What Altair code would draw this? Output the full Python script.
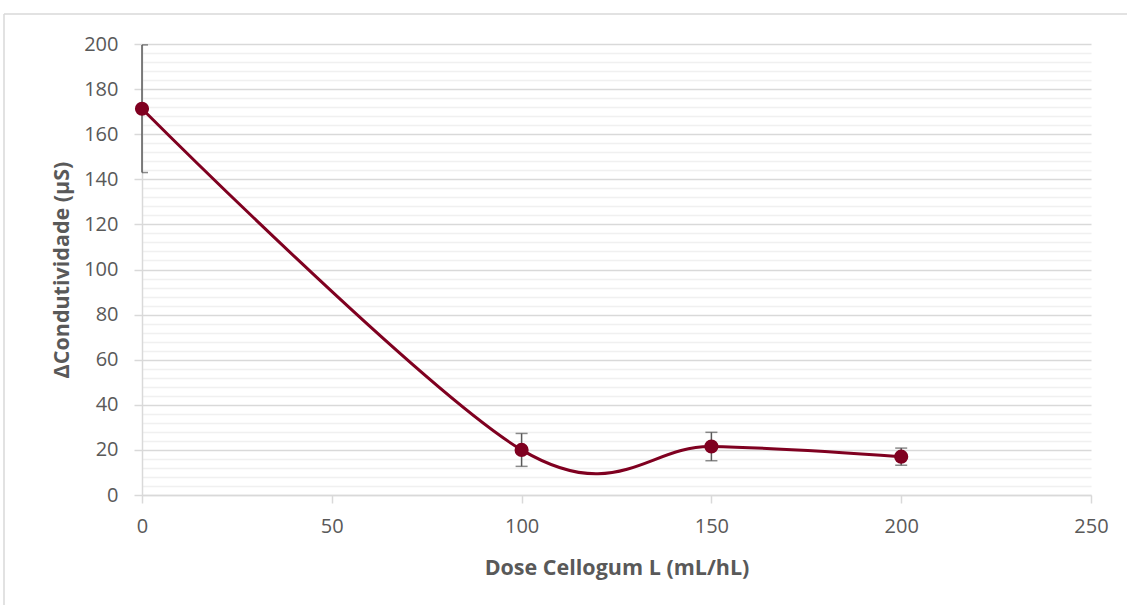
import altair as alt
import pandas as pd

# Dose of Cellogum L (mL/hL) and the measured change in conductivity (µS)
dose = [0, 100, 150, 200]
conductivity = [171.3, 20.0, 21.5, 17.0]
std_dev = [28.3, 7.3, 6.3, 3.8]

x_ticks = [0, 50, 100, 150, 200, 250]
y_grid = list(range(0, 201, 4))

df = pd.DataFrame({"dose": dose, "cond": conductivity, "sd": std_dev})
df["lo"] = df["cond"] - df["sd"]
df["hi"] = df["cond"] + df["sd"]

TEXT = "#595959"
GRID_MAJOR = "#d9d9d9"
GRID_MINOR = "#f0f0f0"
RED = "#7f0020"
FONT = "Open Sans"

x_scale = alt.Scale(domain=[0, 250], nice=False)
y_scale = alt.Scale(domain=[0, 200], nice=False)

x_axis = alt.Axis(
    values=x_ticks,
    tickCount=len(x_ticks),
    grid=False,
    domainColor=GRID_MAJOR,
    domainWidth=1.5,
    tickColor=GRID_MAJOR,
    tickWidth=1.5,
    tickSize=8,
    labelFlush=False,
    labelPadding=13,
    labelFontSize=20,
    labelColor=TEXT,
    labelFont=FONT,
    title="Dose Cellogum L (mL/hL)",
    titleFont=FONT,
    titleFontSize=21.5,
    titleFontWeight="bold",
    titleColor=TEXT,
    titlePadding=21,
)

is_major = "datum.value % 20 === 0"
y_axis = alt.Axis(
    values=y_grid,
    tickCount=len(y_grid),
    grid=True,
    gridColor={"condition": {"test": is_major, "value": GRID_MAJOR}, "value": GRID_MINOR},
    gridWidth=1.5,
    domainColor=GRID_MAJOR,
    domainWidth=1.5,
    tickColor=GRID_MAJOR,
    tickOpacity={"condition": {"test": is_major, "value": 1}, "value": 0},
    tickWidth=1.5,
    tickSize=8,
    labelFlush=False,
    labelExpr=f"{is_major} ? datum.label : ''",
    labelOverlap=False,
    labelPadding=16,
    labelFontSize=20,
    labelColor=TEXT,
    labelFont=FONT,
    title="ΔCondutividade (µS)",
    titleFont=FONT,
    titleFontSize=21.5,
    titleFontWeight="bold",
    titleColor=TEXT,
    titlePadding=10,
)

base = alt.Chart(df)

line = base.mark_line(color=RED, strokeWidth=3, interpolate="cardinal").encode(
    x=alt.X("dose:Q", scale=x_scale, axis=x_axis),
    y=alt.Y("cond:Q", scale=y_scale, axis=y_axis),
)

err_rule = base.mark_rule(color=TEXT, strokeWidth=1.5).encode(
    x="dose:Q", y="lo:Q", y2="hi:Q"
)
cap_lo = base.mark_tick(color=TEXT, orient="horizontal", size=12, thickness=1.5, clip=True).encode(
    x="dose:Q", y="lo:Q"
)
cap_hi = base.mark_tick(color=TEXT, orient="horizontal", size=12, thickness=1.5, clip=True).encode(
    x="dose:Q", y="hi:Q"
)

points = base.mark_circle(color=RED, size=200, opacity=1).encode(
    x="dose:Q", y="cond:Q"
)

# thin frame around the chart area (left and top edges)
frame_top = alt.Chart().mark_rule(color=GRID_MAJOR, strokeWidth=1.5).encode(
    x=alt.value(-138), x2=alt.value(990), y=alt.value(-30)
)
frame_left = alt.Chart().mark_rule(color=GRID_MAJOR, strokeWidth=1.5).encode(
    x=alt.value(-138), y=alt.value(-30), y2=alt.value(570)
)

chart = (
    alt.layer(line, err_rule, cap_lo, cap_hi, points, frame_top, frame_left)
    .properties(
        width=949,
        height=451,
        autosize=alt.AutoSizeParams(type="none"),
        padding={"left": 142, "top": 44, "right": 36, "bottom": 110},
        background="white",
    )
    .configure_view(stroke=None)
)

chart.save("out.html", embed_options={"renderer": "svg", "actions": False})
